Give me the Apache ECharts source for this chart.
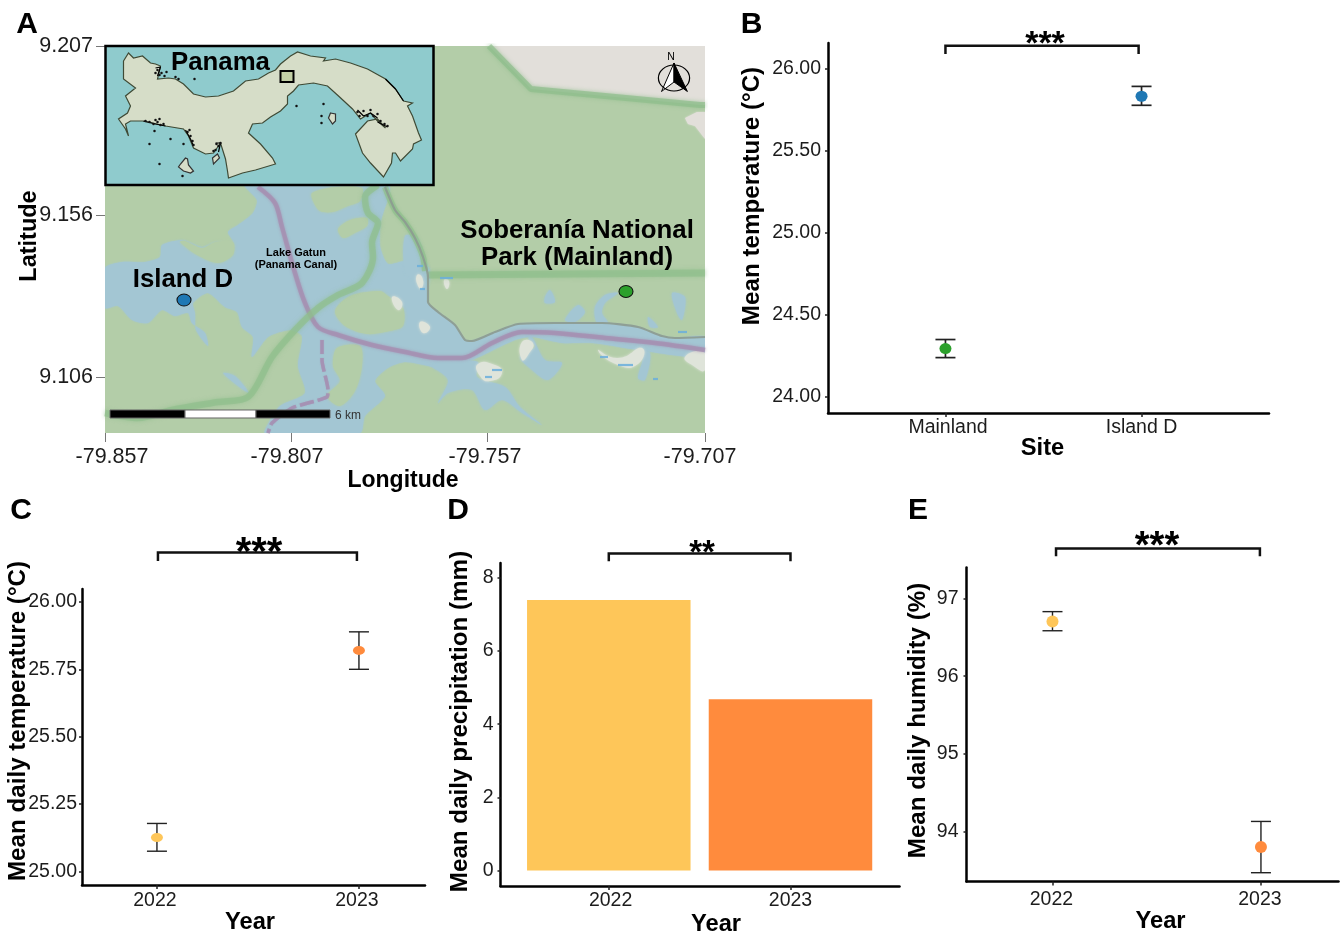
<!DOCTYPE html>
<html><head><meta charset="utf-8">
<style>html,body{margin:0;padding:0;background:#fff}#c{width:1343px;height:934px}</style>
<script src="https://cdn.jsdelivr.net/npm/echarts@6/dist/echarts.min.js"></script>
</head><body><div id="c"></div>
<script>
// ---------- data ----------
const sites = ['Mainland', 'Island D'];
const siteMean = [24.295, 25.83];
const siteLow = [24.24, 25.775];
const siteHigh = [24.35, 25.89];
const years = [2022, 2023];
const tempMean = [25.126, 25.82];
const tempLow = [25.075, 25.75];
const tempHigh = [25.178, 25.889];
const precipMean = [7.39, 4.68];
const humidMean = [96.704, 93.80];
const humidLow = [96.584, 93.47];
const humidHigh = [96.83, 94.13];
const siteTicks = [24, 24.5, 25, 25.5, 26];
const tempTicks = [25, 25.25, 25.5, 25.75, 26];
const precipTicks = [0, 2, 4, 6, 8];
const humidTicks = [94, 95, 96, 97];
const lonTickLabels = ['-79.857', '-79.807', '-79.757', '-79.707'];
const latTickLabels = ['9.207', '9.156', '9.106'];
const lonTickValues = [-79.857, -79.81035, -79.76135, -79.707];
const lonLabelValues = [-79.85525, -79.8115, -79.762, -79.70825];
const latTickValues = [9.207, 9.1555, 9.106];
const mapSites = [[-79.83725, 9.1295], [-79.72675, 9.1321]];

// map sheet outlines (sheet units run across and down the map frame, converted to lon/lat below)
const greyLand = [[384,0],[600,0],[600,59],[595,59],[426,43]];
const greyLand2 = [[580,72],[592,66],[600,66],[600,93],[590,80],[583,78]];
const waterMain = [[140,139],[283,139],[276,175],[275,200],[283,218],[300,215],[312,220],[318,225],[323,235],[323,257],[333,266],[350,279],[360,294],[367,295],[390,286],[413,278],[450,277],[497,277],[533,281],[557,290],[570,292],[600,291],[600,311],[533,304],[487,297],[457,297],[427,291],[410,294],[367,314],[333,324],[327,321],[300,316],[283,322],[270,335],[280,350],[260,370],[255,387],[160,387],[163,378],[175,360],[200,347],[193,320],[197,290],[185,284],[163,291],[147,311],[148,291],[137,281],[132,266],[120,261],[103,247],[88,257],[90,267],[91,284],[103,300],[100,287],[87,277],[83,267],[70,270],[57,264],[43,277],[27,274],[13,260],[0,262],[0,222],[17,216],[40,216],[55,211],[57,199],[78,194],[97,201],[110,196],[128,196],[123,186],[133,179],[148,167],[152,154]];
const waterBranches = [
  [[327,319],[343,334],[333,357],[343,347],[367,344],[380,364],[397,354],[417,367],[437,379],[415,361],[400,341],[372,331],[373,316],[350,316]],
  [[427,291],[440,314],[457,317],[443,334],[427,324],[415,311],[430,301],[423,292]],
  [[533,304],[545,307],[540,334],[533,332],[538,311]],
  [[490,261],[500,249],[513,247],[500,257],[497,267],[503,277],[492,277]],
  [[440,251],[445,244],[450,256],[440,257]],
  [[460,274],[473,259],[480,266],[470,276]],
  [[567,247],[580,251],[577,274],[572,267]],
  [[543,271],[553,281],[545,281]],
  [[300,190],[312,192],[320,215],[325,225],[322,240],[310,235],[300,225]],
  [[118,327],[130,330],[144,347],[133,340]]
];
const landPatches = [
  [[232,302],[255,300],[257,320],[250,345],[235,360],[222,350],[235,335],[228,320]],
  [[207,147],[230,141],[257,142],[255,155],[243,160],[228,166],[215,165],[208,155]],
  [[233,183],[245,174],[262,172],[262,180],[250,187],[238,192]],
  [[230,265],[245,250],[275,245],[283,250],[298,262],[298,280],[285,285],[262,288],[240,280]],
  [[75,196],[92,209],[113,217],[128,209],[128,196],[110,196],[97,202],[80,195]]
];
const palePatches = [
  [[373,318],[390,319],[397,327],[385,335],[375,330]],
  [[493,304],[513,312],[537,302],[533,318],[513,319]],
  [[580,311],[600,307],[600,324],[590,321]],
  [[417,296],[428,297],[423,309],[417,314]],
  [[339,234],[344,235],[342,243]],
  [[315,276],[325,281],[318,287]],
  [[312,229],[317,231],[317,242],[313,240]],
  [[287,251],[297,256],[293,264]]
];
const blueDashes = [[[387,324],[397,324]],[[380,331],[387,331]],[[495,311],[503,311]],[[513,319],[528,319]],[[548,333],[553,333]],[[335,232],[348,232]],[[312,220],[318,220]],[[315,243],[320,243]],[[573,286],[582,286]]];
const roadMain = [[273,139],[260,151],[263,167],[273,177],[267,197],[268,211],[257,237],[233,249],[213,262],[190,284],[167,311],[143,351],[113,356],[67,364],[33,372],[0,367]];
const roadNorth = [[384,0],[426,43],[595,59],[600,59]];
const roadEast = [[323,229],[600,227]];
const roadEdge = [[280,141],[290,164],[300,176],[310,192],[318,211],[320,225]];
const greyRoad = [[280,141],[290,164],[300,176],[310,192],[318,211],[323,231],[323,256],[333,266],[350,279],[360,294],[367,295],[390,286],[413,278],[450,277],[497,277],[533,281],[557,290],[570,292],[600,291]];
const canalMain = [[153,141],[170,157],[177,181],[190,227],[200,257],[213,281],[233,289],[267,299],[300,306],[333,312],[357,312],[387,297],[417,286],[450,287],[500,292],[550,297],[600,304]];
const canalSouth = [[217,294],[217,314],[223,344],[222,351],[187,362],[167,377],[163,387]];
const barBlackWest = [[5,364],[80,364],[80,372],[5,372]];
const barWhite = [[80,364],[151,364],[151,372],[80,372]];
const barBlackEast = [[151,364],[225,364],[225,372],[151,372]];

// inset outlines (inset sheet units)
const insetFrame = [[0,0],[328,0],[328,139],[0,139]];
const panamaOutline = [[18,15],[23,7],[28,12],[37,10],[45,17],[50,18],[55,20],[52,33],[63,32],[70,33],[78,38],[88,48],[100,51],[113,50],[128,45],[140,35],[153,33],[163,27],[170,24],[175,18],[185,10],[192,6],[205,10],[220,12],[218,15],[230,13],[245,17],[262,23],[280,33],[290,43],[298,55],[307,57],[302,60],[307,70],[313,87],[316,94],[308,98],[307,103],[295,115],[290,107],[287,107],[286,117],[278,131],[265,117],[257,107],[250,88],[262,75],[272,73],[280,82],[272,75],[265,67],[255,73],[247,63],[233,50],[222,40],[208,37],[193,39],[188,45],[182,50],[182,58],[175,65],[165,71],[157,77],[147,78],[143,87],[155,98],[167,112],[170,118],[150,124],[137,127],[123,132],[122,125],[120,113],[115,97],[108,107],[100,108],[88,102],[83,90],[78,83],[60,80],[47,77],[37,75],[25,75],[20,78],[23,90],[20,83],[13,73],[22,67],[25,60],[20,50],[30,42],[18,33]];
const panamaIslands = [
  [[80,112],[75,118],[73,121],[78,125],[85,127],[88,125],[83,119],[82,113]],
  [[225,67],[230,68],[230,75],[227,78],[223,72]],
  [[107,112],[112,108],[114,112],[108,118]]
];
const studyBox = [[175,25],[188,25],[188,36],[175,36]];
const panamaSpecks = [[49,85],[65,93],[44,98],[78,98],[54,118],[89,33],[77,130],[191,60],[218,58],[216,70],[216,77],
  [52,24],[56,27],[59,30],[61,26],[54,29],[50,27],[70,31],[73,33],
  [40,75],[44,76],[48,78],[52,76],[55,79],[58,78],[50,74],[54,73],
  [82,86],[85,90],[87,95],[88,99],[84,84],
  [110,104],[113,100],[115,97],[111,98],[108,105],
  [252,66],[254,70],[258,65],[262,70],[265,64],[268,70],[272,68],[275,75],[279,78],[282,80]];
const blackCoast = [
  [[50,22],[55,21],[52,30]],
  [[38,75],[50,78],[60,80]],
  [[80,84],[85,93],[88,100]],
  [[110,97],[115,97],[113,106]],
  [[252,64],[258,70],[265,67],[272,72]],
  [[272,76],[282,81]],
  [[280,33],[290,43],[298,55]]
];
const compassLeft = [[569,17],[556.5,45.5],[569,36]];
const compassRight = [[569,17],[582.4,45.5],[569,36]];

// ---------- helpers ----------
const FONT = 'Liberation Sans';
const LON0 = -79.857, LON_STEP = 0.15 / 600, LAT0 = 9.207, LAT_STEP = 0.101 / 331;
const toLonLat = p => [LON0 + p[0] * LON_STEP, LAT0 - p[1] * LAT_STEP];
const same = p => p;
const COL = {land:'#B3CDA8', grey:'#E2DFDA', water:'#A3C6D3', road:'#8FBE8C', canal:'#A58DB0',
  sea:'#8FCBCD', pan:'#D6DDC8', box:'#C2CFA5', yellow:'#FEC659', orange:'#FF8B3D', blue:'#1F78B4', green:'#2CA02C'};

function polys(name, axis, shapes, conv, z, clip) {
  return { type:'custom', name, xAxisIndex:axis, yAxisIndex:axis, z, silent:true, clip,
    data: shapes.map((s,i)=>[i,i]),
    renderItem(params, api) {
      const s = shapes[params.dataIndex];
      return { type:'polygon',
        shape:{ points: s.pts.map(p => api.coord(conv(p))), smooth:s.smooth||0 },
        style:{ fill:s.fill, stroke:s.stroke||null, lineWidth:s.lw||0, shadowBlur:s.blur||0, shadowColor:s.fill } };
    } };
}
function pathLine(name, axis, pts, conv, z, color, width, opacity, type, blur, smooth) {
  return { type:'line', name, xAxisIndex:axis, yAxisIndex:axis, z, silent:true, symbol:'none', showSymbol:false, smooth:smooth||false,
    data: pts.map(conv), lineStyle:{ color, width, opacity:opacity==null?1:opacity, type:type||'solid', join:'round', cap:'butt', shadowBlur:blur||0, shadowColor:color } };
}
function bracket(axis, x0, x1, yTop, yFoot) {
  return { type:'line', name:'bracket', xAxisIndex:axis, yAxisIndex:axis, clip:false, z:5, silent:true, symbol:'none', showSymbol:false,
    data:[[x0,yFoot],[x0,yTop],[x1,yTop],[x1,yFoot]], lineStyle:{ color:'#111', width:2.5, join:'miter' } };
}
function errorBars(axis, xs, low, high, cap, width) {
  return { type:'custom', name:'error bars', xAxisIndex:axis, yAxisIndex:axis, z:4, silent:true, clip:false,
    data: xs.map((x,i)=>[x, low[i], high[i]]),
    encode:{ x:0, y:[1,2] },
    renderItem(params, api) {
      const a = api.coord([api.value(0), api.value(1)]), b = api.coord([api.value(0), api.value(2)]);
      const st = { stroke:'#222', lineWidth:width, fill:null };
      return { type:'group', children:[
        { type:'line', shape:{x1:a[0],y1:a[1],x2:b[0],y2:b[1]}, style:st },
        { type:'line', shape:{x1:a[0]-cap,y1:a[1],x2:a[0]+cap,y2:a[1]}, style:st },
        { type:'line', shape:{x1:b[0]-cap,y1:b[1],x2:b[0]+cap,y2:b[1]}, style:st } ] };
    } };
}
function points(axis, xs, ys, colors, size) {
  return { type:'scatter', name:'means', xAxisIndex:axis, yAxisIndex:axis, z:6, silent:true, symbol:'circle', symbolSize:size,
    data: xs.map((x,i)=>({ value:[x,ys[i]], itemStyle:{ color:colors[i], opacity:1 } })) };
}
const tickText = { color:'#1c1c1c', fontFamily:FONT, fontSize:19.5 };
function chartX(idx, min, max, ticks, labelAt, fmt, name, margin, gap, shift) {
  return { type:'value', gridIndex:idx, min, max, splitLine:{show:false},
    axisLine:{ show:true, onZero:false, lineStyle:{color:'#000',width:2.5} },
    axisTick:{ show:true, length:4, customValues:ticks, lineStyle:{color:'#222',width:1.5} },
    axisLabel:{ ...tickText, margin, customValues:labelAt, formatter:fmt },
    name, nameLocation:'middle', nameGap:gap, nameMoveOverlap:false,
    nameTextStyle:{ color:'#000', fontFamily:FONT, fontWeight:'bold', fontSize:23.7, padding:shift>0?[0,0,0,shift]:[0,-shift,0,0] } };
}
function chartY(idx, min, max, ticks, digits, name, margin, gap, shift) {
  return { type:'value', gridIndex:idx, min, max, splitLine:{show:false},
    axisLine:{ show:true, onZero:false, lineStyle:{color:'#000',width:2.5} },
    axisTick:{ show:true, length:3, customValues:ticks, lineStyle:{color:'#222',width:1.5} },
    axisLabel:{ ...tickText, margin, customValues:ticks, formatter:v=>v.toFixed(digits) },
    name, nameLocation:'middle', nameGap:gap, nameMoveOverlap:false,
    nameTextStyle:{ color:'#000', fontFamily:FONT, fontWeight:'bold', fontSize:24.2, padding:[0,0,0,shift] } };
}
const yearFmt = v => String(Math.round(v));
const siteFmt = v => sites[Math.round(v)-1];
const nearestLabel = (vals, labels) => v => { let b=0; vals.forEach((t,i)=>{ if(Math.abs(t-v)<Math.abs(vals[b]-v)) b=i; }); return labels[b]; };
const mapTick = { show:true, length:9, lineStyle:{color:'#777',width:1} };
const text = (x,y,t,size,weight,extra) => ({ type:'text', x, y, z:20, silent:true,
  style:Object.assign({ text:t, fontFamily:FONT, fontSize:size, fontWeight:weight||'normal', fill:'#000', textAlign:'center', textVerticalAlign:'middle' }, extra||{}) });

// ---------- chart ----------
const mapAreas = [
  {pts:greyLand, fill:COL.grey},
  {pts:greyLand2, fill:COL.grey, blur:2},
  {pts:waterMain, fill:COL.water, blur:2, smooth:0.25},
  ...waterBranches.map(pts=>({pts, fill:COL.water, blur:3, smooth:0.3})),
  ...landPatches.map(pts=>({pts, fill:COL.land, blur:3, smooth:0.3})),
  ...palePatches.map(pts=>({pts, fill:'#DFE4DA', blur:3, smooth:0.6}))
];
const scaleBar = [
  {pts:barBlackWest, fill:'#000', stroke:'#666', lw:1},
  {pts:barWhite, fill:'#fff', stroke:'#666', lw:1},
  {pts:barBlackEast, fill:'#000', stroke:'#666', lw:1},
  {pts:compassLeft, fill:'#fff', stroke:'#000', lw:1},
  {pts:compassRight, fill:'#000', stroke:'#000', lw:1}
];
const insetAreas = [
  {pts:insetFrame, fill:COL.sea, stroke:'#000', lw:2.5},
  {pts:panamaOutline, fill:COL.pan, stroke:'#3f4a35', lw:1.2},
  ...panamaIslands.map(pts=>({pts, fill:COL.pan, stroke:'#333', lw:1.2})),
  {pts:studyBox, fill:COL.box, stroke:'#000', lw:2}
];

const option = {
  animation:false, backgroundColor:'#fff',
  grid:[
    {left:105, top:46, width:600, height:387, show:true, backgroundColor:COL.land, borderWidth:0, outerBoundsMode:'none'},
    {left:105.5, top:46, width:328, height:139, outerBoundsMode:'none'},
    {left:828, top:43, width:441, height:370, outerBoundsMode:'none'},
    {left:82, top:589, width:343, height:296, outerBoundsMode:'none'},
    {left:500.5, top:563, width:399, height:323, outerBoundsMode:'none'},
    {left:966.5, top:567.5, width:372, height:314, outerBoundsMode:'none'}
  ],
  xAxis:[
    { type:'value', gridIndex:0, min:LON0, max:-79.707, splitLine:{show:false}, axisLine:{show:false},
      axisTick:{...mapTick, customValues:lonTickValues},
      axisLabel:{ color:'#1c1c1c', fontFamily:FONT, fontSize:21.5, margin:13, customValues:lonLabelValues, formatter:nearestLabel(lonLabelValues,lonTickLabels) },
      name:'Longitude', nameLocation:'middle', nameGap:36, nameMoveOverlap:false,
      nameTextStyle:{color:'#000',fontFamily:FONT,fontWeight:'bold',fontSize:23,padding:[0,4,0,0]} },
    { type:'value', gridIndex:1, min:0, max:328, show:false },
    chartX(2, 0.401, 2.65, [1,2], [1.013,2], siteFmt, 'Site', 4.5, 23, -12),
    chartX(3, 2021.629, 2023.327, years, [2021.99,2022.99], yearFmt, 'Year', 5.5, 25, -7),
    chartX(4, 2021.404, 2023.6, years, [2022.01,2023], yearFmt, 'Year', 5, 26, 32),
    chartX(5, 2021.5875, 2023.372, years, [2021.995,2022.995], yearFmt, 'Year', 8, 28, 16)
  ],
  yAxis:[
    { type:'value', gridIndex:0, min:9.08891, max:LAT0, splitLine:{show:false}, axisLine:{show:false},
      axisTick:{...mapTick, customValues:latTickValues},
      axisLabel:{ color:'#1c1c1c', fontFamily:FONT, fontSize:21.5, margin:12, customValues:latTickValues, formatter:nearestLabel(latTickValues,latTickLabels) },
      name:'Latitude', nameLocation:'middle', nameGap:63, nameMoveOverlap:false,
      nameTextStyle:{color:'#000',fontFamily:FONT,fontWeight:'bold',fontSize:23.5,padding:[0,0,0,7]} },
    { type:'value', gridIndex:1, min:0, max:139, inverse:true, show:false },
    chartY(2, 23.903, 26.154, siteTicks, 2, 'Mean temperature (°C)', 7, 64, 64),
    chartY(3, 24.9496, 26.048, tempTicks, 2, 'Mean daily temperature (°C)', 5, 52, 32),
    chartY(4, -0.42, 8.4, precipTicks, 0, 'Mean daily precipitation (mm)', 7, 28.5, 6),
    chartY(5, 93.357, 97.398, humidTicks, 0, 'Mean daily humidity (%)', 8, 36.5, 8)
  ],
  series:[
    polys('map areas', 0, mapAreas, toLonLat, 2, true),
    pathLine('road north', 0, roadNorth, toLonLat, 3, COL.road, 6, 0.7, 'solid', 4),
    pathLine('road east', 0, roadEast, toLonLat, 3, COL.road, 7, 0.65, 'solid', 4),
    pathLine('road edge', 0, roadEdge, toLonLat, 3, COL.road, 6, 0.65, 'solid', 3, 0.3),
    pathLine('canal', 0, canalMain, toLonLat, 3, COL.canal, 4.5, 0.75, 'solid', 3, 0.3),
    pathLine('canal south', 0, canalSouth, toLonLat, 3, COL.canal, 3.5, 0.7, [14,4], 1, 0.2),
    pathLine('road main', 0, roadMain, toLonLat, 3, COL.road, 6.5, 0.65, 'solid', 4, 0.3),
    pathLine('grey road', 0, greyRoad, toLonLat, 3, '#8C9A90', 2.2, 0.9, 'solid', 0, 0.2),
    ...blueDashes.map(d=>pathLine('pool', 0, d, toLonLat, 3, '#6AAEDC', 2.2, 0.85)),
    polys('scale bar and north arrow', 0, scaleBar, toLonLat, 4, true),
    polys('inset', 1, insetAreas, same, 7, false),
    ...blackCoast.map(d=>pathLine('coast', 1, d, same, 8, '#000', 1.2)),
    { type:'scatter', name:'specks', xAxisIndex:1, yAxisIndex:1, z:8, silent:true, symbolSize:2.5, itemStyle:{color:'#111',opacity:1}, data:panamaSpecks },
    { type:'scatter', name:'sites', xAxisIndex:0, yAxisIndex:0, z:6, silent:true, symbol:'circle', symbolSize:[14,12],
      data:mapSites.map((p,i)=>({ value:p, itemStyle:{ color:[COL.blue,COL.green][i], borderColor:'#111', borderWidth:1, opacity:1 } })) },

    errorBars(2, [1,2], siteLow, siteHigh, 10, 1.7),
    points(2, [1,2], siteMean, [COL.green,COL.blue], [12,11]),
    bracket(2, 1, 1.985, 26.138, 26.087),

    errorBars(3, years, tempLow, tempHigh, 10, 1.4),
    points(3, years, tempMean, [COL.yellow,COL.orange], [12,9]),
    bracket(3, 2022.005, 2022.99, 26.183, 26.152),

    { type:'bar', name:'precipitation', xAxisIndex:4, yAxisIndex:4, barWidth:163.5, silent:true, z:2,
      data:years.map((y,i)=>({ value:[y,precipMean[i]], itemStyle:{ color:[COL.yellow,COL.orange][i] } })) },
    bracket(4, 2022, 2023, 8.656, 8.445),

    errorBars(5, years, humidLow, humidHigh, 10, 1.4),
    points(5, years, humidMean, [COL.yellow,COL.orange], 12),
    bracket(5, 2022.017, 2022.995, 97.643, 97.544)
  ],
  graphic:{ elements:[
    text(27,24.5,'A',30,'bold'), text(751.5,24.5,'B',30,'bold'), text(21,510.5,'C',30,'bold'), text(458,510.5,'D',30,'bold'), text(918,510.5,'E',30,'bold'),
    text(220.5,62.5,'Panama',25.8,'bold'),
    text(183,280,'Island D',25.8,'bold'),
    text(577,231,'Soberanía National',25.8,'bold'),
    text(577,257.5,'Park (Mainland)',25.8,'bold'),
    text(296,252.5,'Lake Gatun',11,'bold'),
    text(296,264.5,'(Panama Canal)',11,'bold'),
    text(348,415.5,'6 km',12,'normal',{fill:'#333'}),
    text(671,57,'N',10.5,'normal'),
    { type:'circle', x:674, y:78, z:20, scaleX:1.2, silent:true, shape:{r:13}, style:{fill:'none',stroke:'#000',lineWidth:1} },
    text(1045,45,'***',34,'bold'),
    text(259,554,'***',40,'bold'),
    text(702,554,'**',33,'bold'),
    text(1157,548,'***',38,'bold')
  ]}
};
echarts.init(document.getElementById('c')).setOption(option);
</script></body></html>
